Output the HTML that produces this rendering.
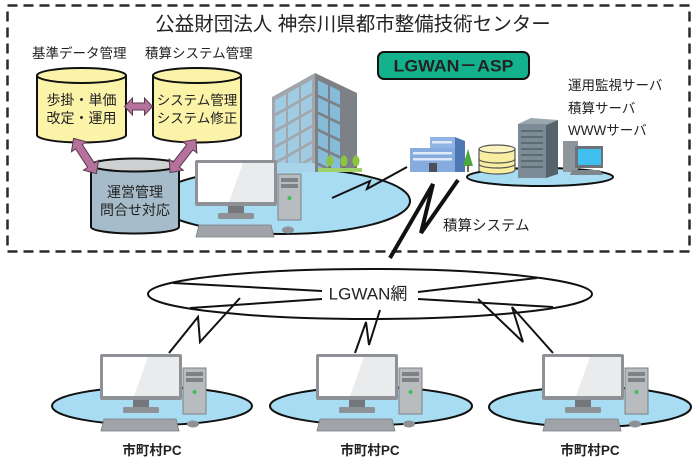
<!DOCTYPE html>
<html><head><meta charset="utf-8"><style>
html,body{margin:0;padding:0;background:#fff;}
svg{display:block;}
text{font-family:"Liberation Sans","Noto Sans CJK JP",sans-serif;fill:#222;}
</style></head><body>
<svg width="697" height="463" viewBox="0 0 697 463" xmlns="http://www.w3.org/2000/svg">
<defs>
  <g id="pc">
    <rect x="0" y="0" width="82" height="46" rx="2" fill="#8e9296"/>
    <rect x="3" y="3" width="76" height="39" fill="#ffffff"/>
    <polygon points="48,3 79,3 79,42 34,42" fill="#e9ebed"/>
    <rect x="33" y="46" width="16" height="8" fill="#74787c"/>
    <rect x="23" y="53" width="36" height="6" rx="1.5" fill="#8e9296"/>
    <rect x="83" y="14" width="23" height="46" fill="#b8bcbf" stroke="#7c8084" stroke-width="1"/>
    <rect x="86" y="18" width="17" height="4" fill="#7e8286"/>
    <rect x="86" y="24" width="17" height="4" fill="#7e8286"/>
    <circle cx="94.5" cy="38" r="2" fill="#3fbf5a"/>
    <polygon points="4,65 76,65 79,77 1,77" fill="#a0a4a8" stroke="#7a7e82" stroke-width="0.8"/>
    <ellipse cx="93" cy="70" rx="6" ry="3.5" fill="#8e9296"/>
  </g>
  <clipPath id="lf"><polygon points="272,97 315,73 315,172 272,172"/></clipPath>
  <clipPath id="rf"><polygon points="315,73 357,93 357,172 315,172"/></clipPath>
</defs>

<!-- dashed frame -->
<rect x="7.5" y="5.5" width="682" height="246" fill="none" stroke="#2a2a2a" stroke-width="2.5" stroke-dasharray="10 6"/>

<!-- title -->
<text x="353" y="30.5" font-size="19.5" text-anchor="middle">公益財団法人 神奈川県都市整備技術センター</text>

<text x="32" y="58" font-size="13.5">基準データ管理</text>
<text x="145" y="58" font-size="13.5">積算システム管理</text>

<!-- center ellipse -->
<ellipse cx="283" cy="201" rx="127" ry="33" fill="#a8dcf3" stroke="#111" stroke-width="2"/>

<!-- yellow cylinders -->
<path d="M37,75.5 L37,135 A44.5,7.5 0 0 0 126,135 L126,75.5 Z" fill="#fbf3a8" stroke="#111" stroke-width="2"/>
<ellipse cx="81.5" cy="75.5" rx="44.5" ry="7.5" fill="#fbf3a8" stroke="#111" stroke-width="2"/>
<path d="M153,75.5 L153,135 A44,7.5 0 0 0 241,135 L241,75.5 Z" fill="#fbf3a8" stroke="#111" stroke-width="2"/>
<ellipse cx="197" cy="75.5" rx="44" ry="7.5" fill="#fbf3a8" stroke="#111" stroke-width="2"/>
<text x="81.5" y="105" font-size="14" text-anchor="middle">歩掛・単価</text>
<text x="81.5" y="123" font-size="14" text-anchor="middle">改定・運用</text>
<text x="197" y="105" font-size="13.5" text-anchor="middle">システム管理</text>
<text x="197" y="123" font-size="13.5" text-anchor="middle">システム修正</text>

<!-- gray cylinder -->
<path d="M91,165 L91,227 A44,6.5 0 0 0 179,227 L179,165 Z" fill="#a6bccb" stroke="#111" stroke-width="2"/>
<ellipse cx="135" cy="165" rx="44" ry="6.5" fill="#cfd0d1" stroke="#111" stroke-width="2"/>
<text x="135" y="197" font-size="14" text-anchor="middle">運営管理</text>
<text x="135" y="215" font-size="14" text-anchor="middle">問合せ対応</text>

<!-- arrows -->
<g fill="#b5729c" stroke="#5a3a4f" stroke-width="1">
  <polygon transform="translate(138.5,106.5)" points="-14,0 -6,-8.5 -6,-3.5 6,-3.5 6,-8.5 14,0 6,8.5 6,3.5 -6,3.5 -6,8.5"/>
  <polygon transform="translate(85,156) rotate(57)" points="-21,0 -11,-9 -11,-4 11,-4 11,-9 21,0 11,9 11,4 -11,4 -11,9"/>
  <polygon transform="translate(183,156) rotate(128)" points="-21,0 -11,-9 -11,-4 11,-4 11,-9 21,0 11,9 11,4 -11,4 -11,9"/>
</g>

<!-- tall building -->
<polygon points="272,97 315,73 315,172 272,172" fill="#a3a7ab"/>
<g clip-path="url(#lf)">
  <g transform="matrix(1,-0.558,0,1,272,97)" fill="#9fcbe3">
    <rect x="3" y="5" width="11" height="13"/><rect x="16" y="5" width="11" height="13"/><rect x="29" y="5" width="11" height="13"/>
    <rect x="3" y="21" width="11" height="13"/><rect x="16" y="21" width="11" height="13"/><rect x="29" y="21" width="11" height="13"/>
    <rect x="3" y="37" width="11" height="13"/><rect x="16" y="37" width="11" height="13"/><rect x="29" y="37" width="11" height="13"/>
    <rect x="3" y="53" width="11" height="13"/><rect x="16" y="53" width="11" height="13"/><rect x="29" y="53" width="11" height="13"/>
    <rect x="3" y="69" width="11" height="13"/><rect x="16" y="69" width="11" height="13"/><rect x="29" y="69" width="11" height="13"/>
    <rect x="3" y="85" width="11" height="13"/><rect x="16" y="85" width="11" height="13"/><rect x="29" y="85" width="11" height="13"/>
    <rect x="3" y="101" width="11" height="13"/><rect x="16" y="101" width="11" height="13"/><rect x="29" y="101" width="11" height="13"/>
  </g>
</g>
<polygon points="315,73 357,93 357,172 315,172" fill="#7c8187"/>
<g clip-path="url(#rf)">
  <g transform="matrix(1,0.476,0,1,315,73)" fill="#86bcd9">
    <rect x="3" y="6" width="10" height="14"/><rect x="15" y="6" width="10" height="14"/>
    <rect x="3" y="23" width="10" height="14"/><rect x="15" y="23" width="10" height="14"/>
    <rect x="3" y="40" width="10" height="14"/><rect x="15" y="40" width="10" height="14"/>
    <rect x="3" y="57" width="10" height="14"/><rect x="15" y="57" width="10" height="14"/>
    <rect x="3" y="74" width="10" height="14"/><rect x="15" y="74" width="10" height="14"/>
    <rect x="3" y="91" width="10" height="14"/><rect x="15" y="91" width="10" height="14"/>
  </g>
</g>
<rect x="272" y="163" width="43" height="9" fill="#a9d3e8"/>
<!-- trees -->
<g>
  <rect x="329" y="163" width="2" height="9" fill="#7a6a4a"/><ellipse cx="330" cy="161" rx="3.5" ry="5.5" fill="#8cc63f"/>
  <rect x="343" y="163" width="2" height="9" fill="#7a6a4a"/><ellipse cx="344" cy="161" rx="3.5" ry="5.5" fill="#8cc63f"/>
  <rect x="355" y="163" width="2" height="9" fill="#7a6a4a"/><ellipse cx="356" cy="161" rx="3.5" ry="5.5" fill="#8cc63f"/>
  <rect x="318" y="168" width="44" height="4" fill="#9fd06a"/>
</g>

<!-- center PC -->
<use href="#pc" transform="translate(195,160)"/>

<!-- small zigzag center -->
<polyline points="332,198 370,181 367,189 407,167" fill="none" stroke="#111" stroke-width="2"/>

<!-- server ellipse -->
<ellipse cx="540" cy="177" rx="73" ry="9" fill="#a8dcf3" stroke="#111" stroke-width="2"/>

<!-- office building -->
<polygon points="430,137 455,137 455,148 430,148" fill="#8fb3e3"/>
<rect x="410" y="148" width="45" height="24" fill="#86acdf"/>
<polygon points="455,137 465,141 465,172 455,172" fill="#4f77b3"/>
<g fill="#dfeaf8">
  <rect x="413" y="152" width="39" height="2.5"/>
  <rect x="413" y="158" width="39" height="2.5"/>
  <rect x="432" y="141" width="20" height="2.5"/>
</g>
<rect x="429" y="163" width="8" height="9" fill="#4a4f57"/>
<polygon points="468,149 463,166 473,166" fill="#4aa840"/>
<rect x="467" y="165" width="2" height="7" fill="#7a6a4a"/>

<!-- DB cylinder -->
<path d="M479,149 L479,170 A18,4 0 0 0 515,170 L515,149 Z" fill="#f8eda0" stroke="#555" stroke-width="1.2"/>
<path d="M479,159 A18,4 0 0 0 515,159" fill="none" stroke="#555" stroke-width="1.2"/>
<path d="M479,164 A18,4 0 0 0 515,164" fill="none" stroke="#555" stroke-width="1.2"/>
<ellipse cx="497" cy="149" rx="18" ry="4" fill="#fbf4c0" stroke="#555" stroke-width="1.2"/>

<!-- server tower -->
<polygon points="518,124 531,118 558,120 546,125" fill="#9aa6ae"/>
<rect x="518" y="124" width="28" height="54" fill="#7c8b96"/>
<polygon points="546,125 558,120 558,174 546,178" fill="#56636c"/>
<g fill="#5d6b75">
  <rect x="521" y="130" width="22" height="2"/><rect x="521" y="136" width="22" height="2"/>
  <rect x="521" y="142" width="22" height="2"/><rect x="521" y="148" width="22" height="2"/>
  <rect x="521" y="154" width="22" height="2"/><rect x="521" y="160" width="22" height="2"/>
  <rect x="521" y="166" width="22" height="2"/>
</g>

<!-- small PC -->
<rect x="563" y="141" width="15" height="31" fill="#8d969d"/>
<rect x="575" y="146" width="28" height="22" fill="#6b7379"/>
<polygon points="578,149 601,149 601,165 578,165" fill="#3fc0ef"/>
<polygon points="572,170 600,170 603,175 570,175" fill="#7f878d"/>

<!-- LGWAN-ASP box -->
<rect x="378" y="52" width="151" height="27" rx="6" fill="#14b28c" stroke="#111" stroke-width="2"/>
<text x="453.5" y="71.5" font-size="17" font-weight="bold" text-anchor="middle" textLength="120" lengthAdjust="spacingAndGlyphs" fill="#1a1a1a">LGWAN－ASP</text>

<text x="568" y="90" font-size="13.5">運用監視サーバ</text>
<text x="568" y="113" font-size="13.5">積算サーバ</text>
<text x="568" y="135" font-size="13.5">WWWサーバ</text>

<text x="443" y="230.5" font-size="14.5">積算システム</text>

<!-- big N lightning -->
<polyline points="390,258 433,184 421,233 458,180" fill="none" stroke="#111" stroke-width="4" stroke-linejoin="miter"/>

<!-- LGWAN ellipse -->
<ellipse cx="370" cy="294" rx="222" ry="25" fill="#fff" stroke="#111" stroke-width="2"/>
<g stroke="#111" stroke-width="2" fill="none">
  <line x1="173" y1="283" x2="322" y2="291"/>
  <line x1="190" y1="308" x2="322" y2="299"/>
  <line x1="418" y1="292" x2="537" y2="278"/>
  <line x1="418" y1="299" x2="553" y2="307"/>
</g>
<text x="368" y="299.5" font-size="17" text-anchor="middle">LGWAN網</text>

<!-- bottom zigzags -->
<g stroke="#111" stroke-width="2" fill="none">
  <polyline points="240,298 200,342 198,317 169,353"/>
  <polyline points="380,310 369,345 366,322 355,353"/>
  <polyline points="478,299 523,342 512,307 553,353"/>
</g>

<!-- bottom ellipses -->
<ellipse cx="152" cy="406" rx="100" ry="19" fill="#a8dcf3" stroke="#111" stroke-width="2"/>
<ellipse cx="371" cy="406" rx="101" ry="19" fill="#a8dcf3" stroke="#111" stroke-width="2"/>
<ellipse cx="590" cy="407" rx="101" ry="20" fill="#a8dcf3" stroke="#111" stroke-width="2"/>

<use href="#pc" transform="translate(100,354)"/>
<use href="#pc" transform="translate(316,354)"/>
<use href="#pc" transform="translate(542,354)"/>

<text x="152" y="455" font-size="13.5" font-weight="bold" text-anchor="middle">市町村PC</text>
<text x="370" y="455" font-size="13.5" font-weight="bold" text-anchor="middle">市町村PC</text>
<text x="590" y="455" font-size="13.5" font-weight="bold" text-anchor="middle">市町村PC</text>
</svg>
</body></html>
